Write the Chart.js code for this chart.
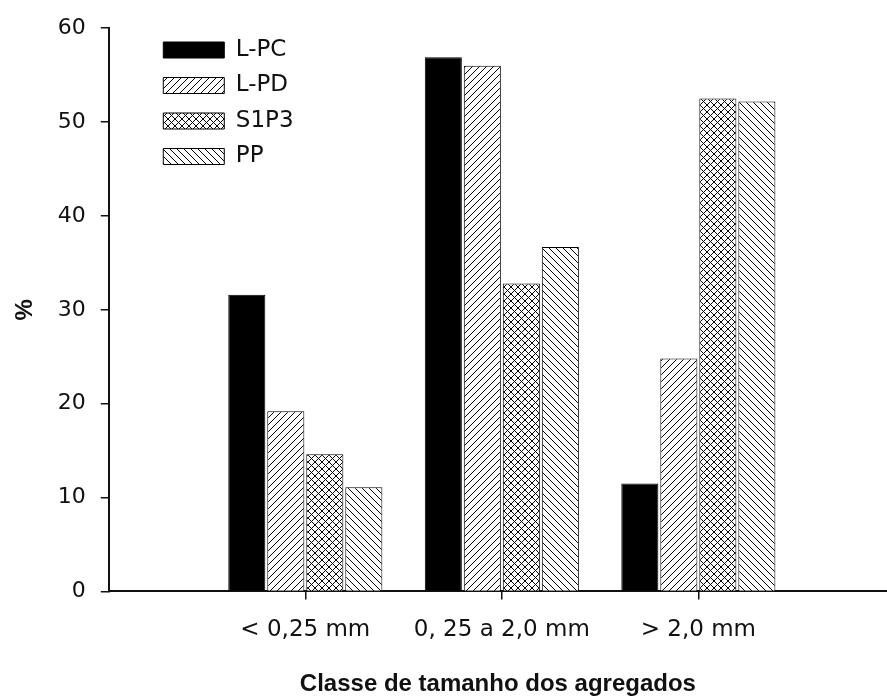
<!DOCTYPE html>
<html>
<head>
<meta charset="utf-8">
<script src="https://cdn.jsdelivr.net/npm/chart.js@4"></script>
<style>
  html, body { margin: 0; padding: 0; background: #fff; }
</style>
</head>
<body>
<canvas id="aggChart" width="887" height="696"></canvas>
<script>
// classes of aggregate size
var classes = ['< 0,25 mm', '0, 25 a 2,0 mm', '> 2,0 mm'];
// % per class
var lpc  = [31.6, 56.9, 11.5];
var lpd  = [19.2, 56.0, 24.8];
var s1p3 = [14.6, 32.8, 52.5];
var pp   = [11.1, 36.7, 52.2];
var yTicks = [0, 10, 20, 30, 40, 50, 60];

var canvas = document.getElementById("aggChart");
var ctx = canvas.getContext("2d");

// small tile patterns for the hatched bars
function hatch(kind) {
    var s = 7;
    var c = document.createElement("canvas");
    c.width = s; c.height = s;
    var g = c.getContext("2d");
    g.fillStyle = "#fff";
    g.fillRect(0, 0, s, s);
    g.strokeStyle = "#000";
    g.lineWidth = 1;
    g.beginPath();
    if (kind === "/" || kind === "x") {
        g.moveTo(-1, s + 1); g.lineTo(s + 1, -1);
        g.moveTo(-1, 1); g.lineTo(1, -1);
        g.moveTo(s - 1, s + 1); g.lineTo(s + 1, s - 1);
    }
    if (kind === "\\" || kind === "x") {
        g.moveTo(-1, -1); g.lineTo(s + 1, s + 1);
        g.moveTo(s - 1, -1); g.lineTo(s + 1, 1);
        g.moveTo(-1, s - 1); g.lineTo(1, s + 1);
    }
    g.stroke();
    return ctx.createPattern(c, "repeat");
}

function pts(arr) {
    return arr.map(function (v, i) { return { x: i, y: v }; });
}

var tickFont = { family: "DejaVu Sans", size: 22 };
var titleFont = { family: "Liberation Sans", size: 24, weight: "bold" };
var ink = "#111";

// move the legend into the upper left of the plot
var legendShift = {
    id: "legendShift",
    afterLayout: function (chart) {
        var lg = chart.legend;
        if (!lg) return;
        lg.left += 42;
        lg.right += 42;
        lg.top += 26;
        lg.bottom += 26;
    }
};

new Chart(ctx, {
    type: 'bar',
    data: {
        datasets: [
            { label: 'L-PC', data: pts(lpc), backgroundColor: '#000', borderColor: '#000', borderWidth: 1 },
            { label: 'L-PD', data: pts(lpd), backgroundColor: hatch("/"), borderColor: '#000', borderWidth: 1 },
            { label: 'S1P3', data: pts(s1p3), backgroundColor: hatch("x"), borderColor: '#000', borderWidth: 1 },
            { label: 'PP', data: pts(pp), backgroundColor: hatch("\\"), borderColor: '#000', borderWidth: 1 }
        ]
    },
    options: {
        responsive: false,
        animation: false,
        categoryPercentage: 0.794,
        barPercentage: 0.95,
        layout: { padding: { left: 11, top: 21, right: 0, bottom: 0 } },
        plugins: {
            tooltip: { enabled: false },
            legend: {
                position: 'chartArea',
                align: 'start',
                labels: {
                    boxWidth: 61,
                    boxHeight: 16,
                    padding: 12.5,
                    color: ink,
                    font: { family: "DejaVu Sans", size: 23 }
                }
            }
        },
        scales: {
            x: {
                type: 'linear',
                min: -1.0,
                max: 2.96,
                offset: false,
                grid: {
                    offset: false,
                    drawOnChartArea: false,
                    drawTicks: true,
                    tickLength: 8,
                    lineWidth: 1.5,
                    color: function (c) {
                        return c.tick && c.tick.value >= 0 ? ink : 'rgba(0,0,0,0)';
                    }
                },
                border: { display: true, color: ink, width: 2 },
                ticks: {
                    stepSize: 1,
                    includeBounds: false,
                    autoSkip: false,
                    maxRotation: 0,
                    padding: 17,
                    color: ink,
                    font: { family: "DejaVu Sans", size: 23 },
                    callback: function (v) {
                        return classes[v] !== undefined ? classes[v] : '';
                    }
                },
                title: {
                    display: true,
                    text: 'Classe de tamanho dos agregados',
                    color: ink,
                    font: { family: "Liberation Sans", size: 24, weight: "bold", lineHeight: 1 },
                    padding: { top: 11, bottom: 0 }
                }
            },
            y: {
                min: yTicks[0],
                max: yTicks[yTicks.length - 1],
                grid: {
                    drawOnChartArea: false,
                    drawTicks: true,
                    tickLength: 8,
                    lineWidth: 1.5,
                    color: ink
                },
                border: { display: true, color: ink, width: 2 },
                ticks: {
                    stepSize: 10,
                    padding: 15,
                    color: ink,
                    font: tickFont
                },
                title: {
                    display: true,
                    text: '%',
                    color: ink,
                    font: titleFont,
                    padding: { top: 0, bottom: 3 }
                }
            }
        }
    },
    plugins: [legendShift]
});
</script>
</body>
</html>
